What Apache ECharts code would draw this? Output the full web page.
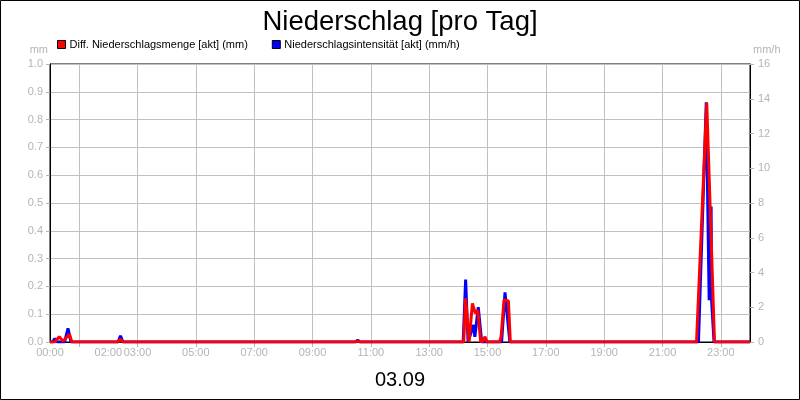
<!DOCTYPE html>
<html>
<head>
<meta charset="utf-8">
<script src="https://cdn.jsdelivr.net/npm/echarts@6/dist/echarts.min.js"></script>
<style>
html,body{margin:0;padding:0;background:#fff;}
#chart{width:800px;height:400px;}
</style>
</head>
<body>
<div id="chart"></div>
<script>
// ---- data ----
var titleText = 'Niederschlag [pro Tag]';
var dateText = '03.09';
var redName = 'Diff. Niederschlagsmenge [akt] (mm)';
var blueName = 'Niederschlagsintensität [akt] (mm/h)';

var redTimes  = ['00:00','00:10','00:19','00:27','00:40','00:45','02:20','02:25','02:30','10:28','10:33','10:38',
                 '14:11','14:15','14:22','14:29','14:35','14:40','14:46','14:51','14:55','14:59',
                 '15:25','15:28','15:34','15:43','15:47','22:10','22:31','22:47','24:00'];
var redValues = [0,0,0.019,0.003,0.028,0,0,0.01,0,0,0.004,0,
                 0,0.157,0,0.139,0.103,0.115,0,0.004,0.019,0,
                 0,0.02,0.151,0.148,0,0,0.86,0,0];

var blueTimes  = ['00:00','00:05','00:10','00:15','00:30','00:37','00:43','02:20','02:25','02:30','10:28','10:33','10:38',
                  '14:10','14:15','14:20','14:23','14:31','14:34','14:41','14:48',
                  '15:29','15:36','15:46','22:14','22:30','22:36','22:40','22:41','22:46','24:00'];
var blueValues = [0,0,0.2,0,0,0.79,0,0,0.36,0,0,0.1,0,
                  0,3.6,0,0,0.98,0.3,2.0,0,
                  0,2.86,0,0,13.8,2.4,7.8,2.4,0,0];

var labelHours = [0,2,3,5,7,9,11,13,15,17,19,21,23];
var tickHours = [1,3,5,7,9,11,13,15,17,19,21,23];

function toHours(t){ var p=t.split(':'); return (+p[0]) + (+p[1])/60; }
function pairs(ts, vs){ return ts.map(function(t,i){ return [toHours(t), vs[i]]; }); }
function pad(n){ return (n<10?'0':'')+n; }

var gray = '#b4b4b4';
var gridGray = '#c0c0c0';
var font = 'Arial, "Liberation Sans", sans-serif';

var chart = echarts.init(document.getElementById('chart'));
chart.setOption({
  backgroundColor: '#fff',
  animation: false,
  textStyle: {fontFamily: font},
  title: {
    text: titleText, left: 'center', top: 3,
    textStyle: {fontSize: 27.5, fontWeight: 'normal', color: '#000', fontFamily: font}
  },
  legend: {
    left: 52, top: 34, itemWidth: 8, itemHeight: 8, itemGap: 24,
    icon: 'rect',
    data: [
      {name: redName, itemStyle: {color: '#ff0000', borderColor: '#000', borderWidth: 1}},
      {name: blueName, itemStyle: {color: '#0000ff', borderColor: '#000', borderWidth: 1}}
    ],
    textStyle: {fontSize: 11, color: '#000', fontFamily: font, padding: [0,0,0,-1]}
  },
  grid: {left: 50, right: 50, top: 64, bottom: 58, show: true, borderColor: '#000', borderWidth: 1,
         containLabel: false, outerBoundsMode: 'none'},
  xAxis: {
    type: 'value', min: 0, max: 24, interval: 1,
    name: dateText, nameLocation: 'middle', nameGap: 28,
    nameTextStyle: {fontSize: 20, color: '#000', fontFamily: font},
    axisLine: {show: true, lineStyle: {color: '#000', width: 1}},
    axisTick: {show: true, length: 5, lineStyle: {color: gray}, customValues: tickHours},
    axisLabel: {
      color: gray, fontSize: 11, margin: 5, fontFamily: font,
      customValues: labelHours,
      formatter: function(v){ return pad(Math.round(v)) + ':00'; }
    },
    splitLine: {show: true, lineStyle: {color: gridGray, width: 1}}
  },
  yAxis: [
    {
      type: 'value', min: 0, max: 1, interval: 0.1, position: 'left',
      name: 'mm', nameLocation: 'end', nameGap: 9,
      nameTextStyle: {color: gray, fontSize: 11, align: 'right', padding: [0, 2, 0, 0], fontFamily: font},
      axisLine: {show: true, lineStyle: {color: '#000'}},
      axisTick: {show: true, length: 4, lineStyle: {color: gray}},
      axisLabel: {color: gray, fontSize: 11, margin: 7, fontFamily: font, formatter: function(v){ return v.toFixed(1); }},
      splitLine: {show: true, lineStyle: {color: gridGray, width: 1}}
    },
    {
      type: 'value', min: 0, max: 16, interval: 2, position: 'right',
      name: 'mm/h', nameLocation: 'end', nameGap: 9,
      nameTextStyle: {color: gray, fontSize: 11, align: 'left', padding: [0, 0, 0, 3], fontFamily: font},
      axisLine: {show: true, lineStyle: {color: '#000'}},
      axisTick: {show: true, length: 4, lineStyle: {color: gray}},
      axisLabel: {color: gray, fontSize: 11, margin: 8, fontFamily: font},
      splitLine: {show: false}
    }
  ],
  series: [
    {
      name: blueName, type: 'line', yAxisIndex: 1, showSymbol: false, symbol: 'none',
      data: pairs(blueTimes, blueValues),
      lineStyle: {color: '#0000ff', width: 3}, itemStyle: {color: '#0000ff'}, z: 2
    },
    {
      name: redName, type: 'line', yAxisIndex: 0, showSymbol: false, symbol: 'none',
      data: pairs(redTimes, redValues),
      lineStyle: {color: '#ff0000', width: 3}, itemStyle: {color: '#ff0000'}, z: 3
    }
  ],
  graphic: [{
    type: 'rect', silent: true, z: 100,
    shape: {x: 0.5, y: 0.5, width: 799, height: 399},
    style: {fill: null, stroke: '#000', lineWidth: 1}
  }]
});
</script>
</body>
</html>
